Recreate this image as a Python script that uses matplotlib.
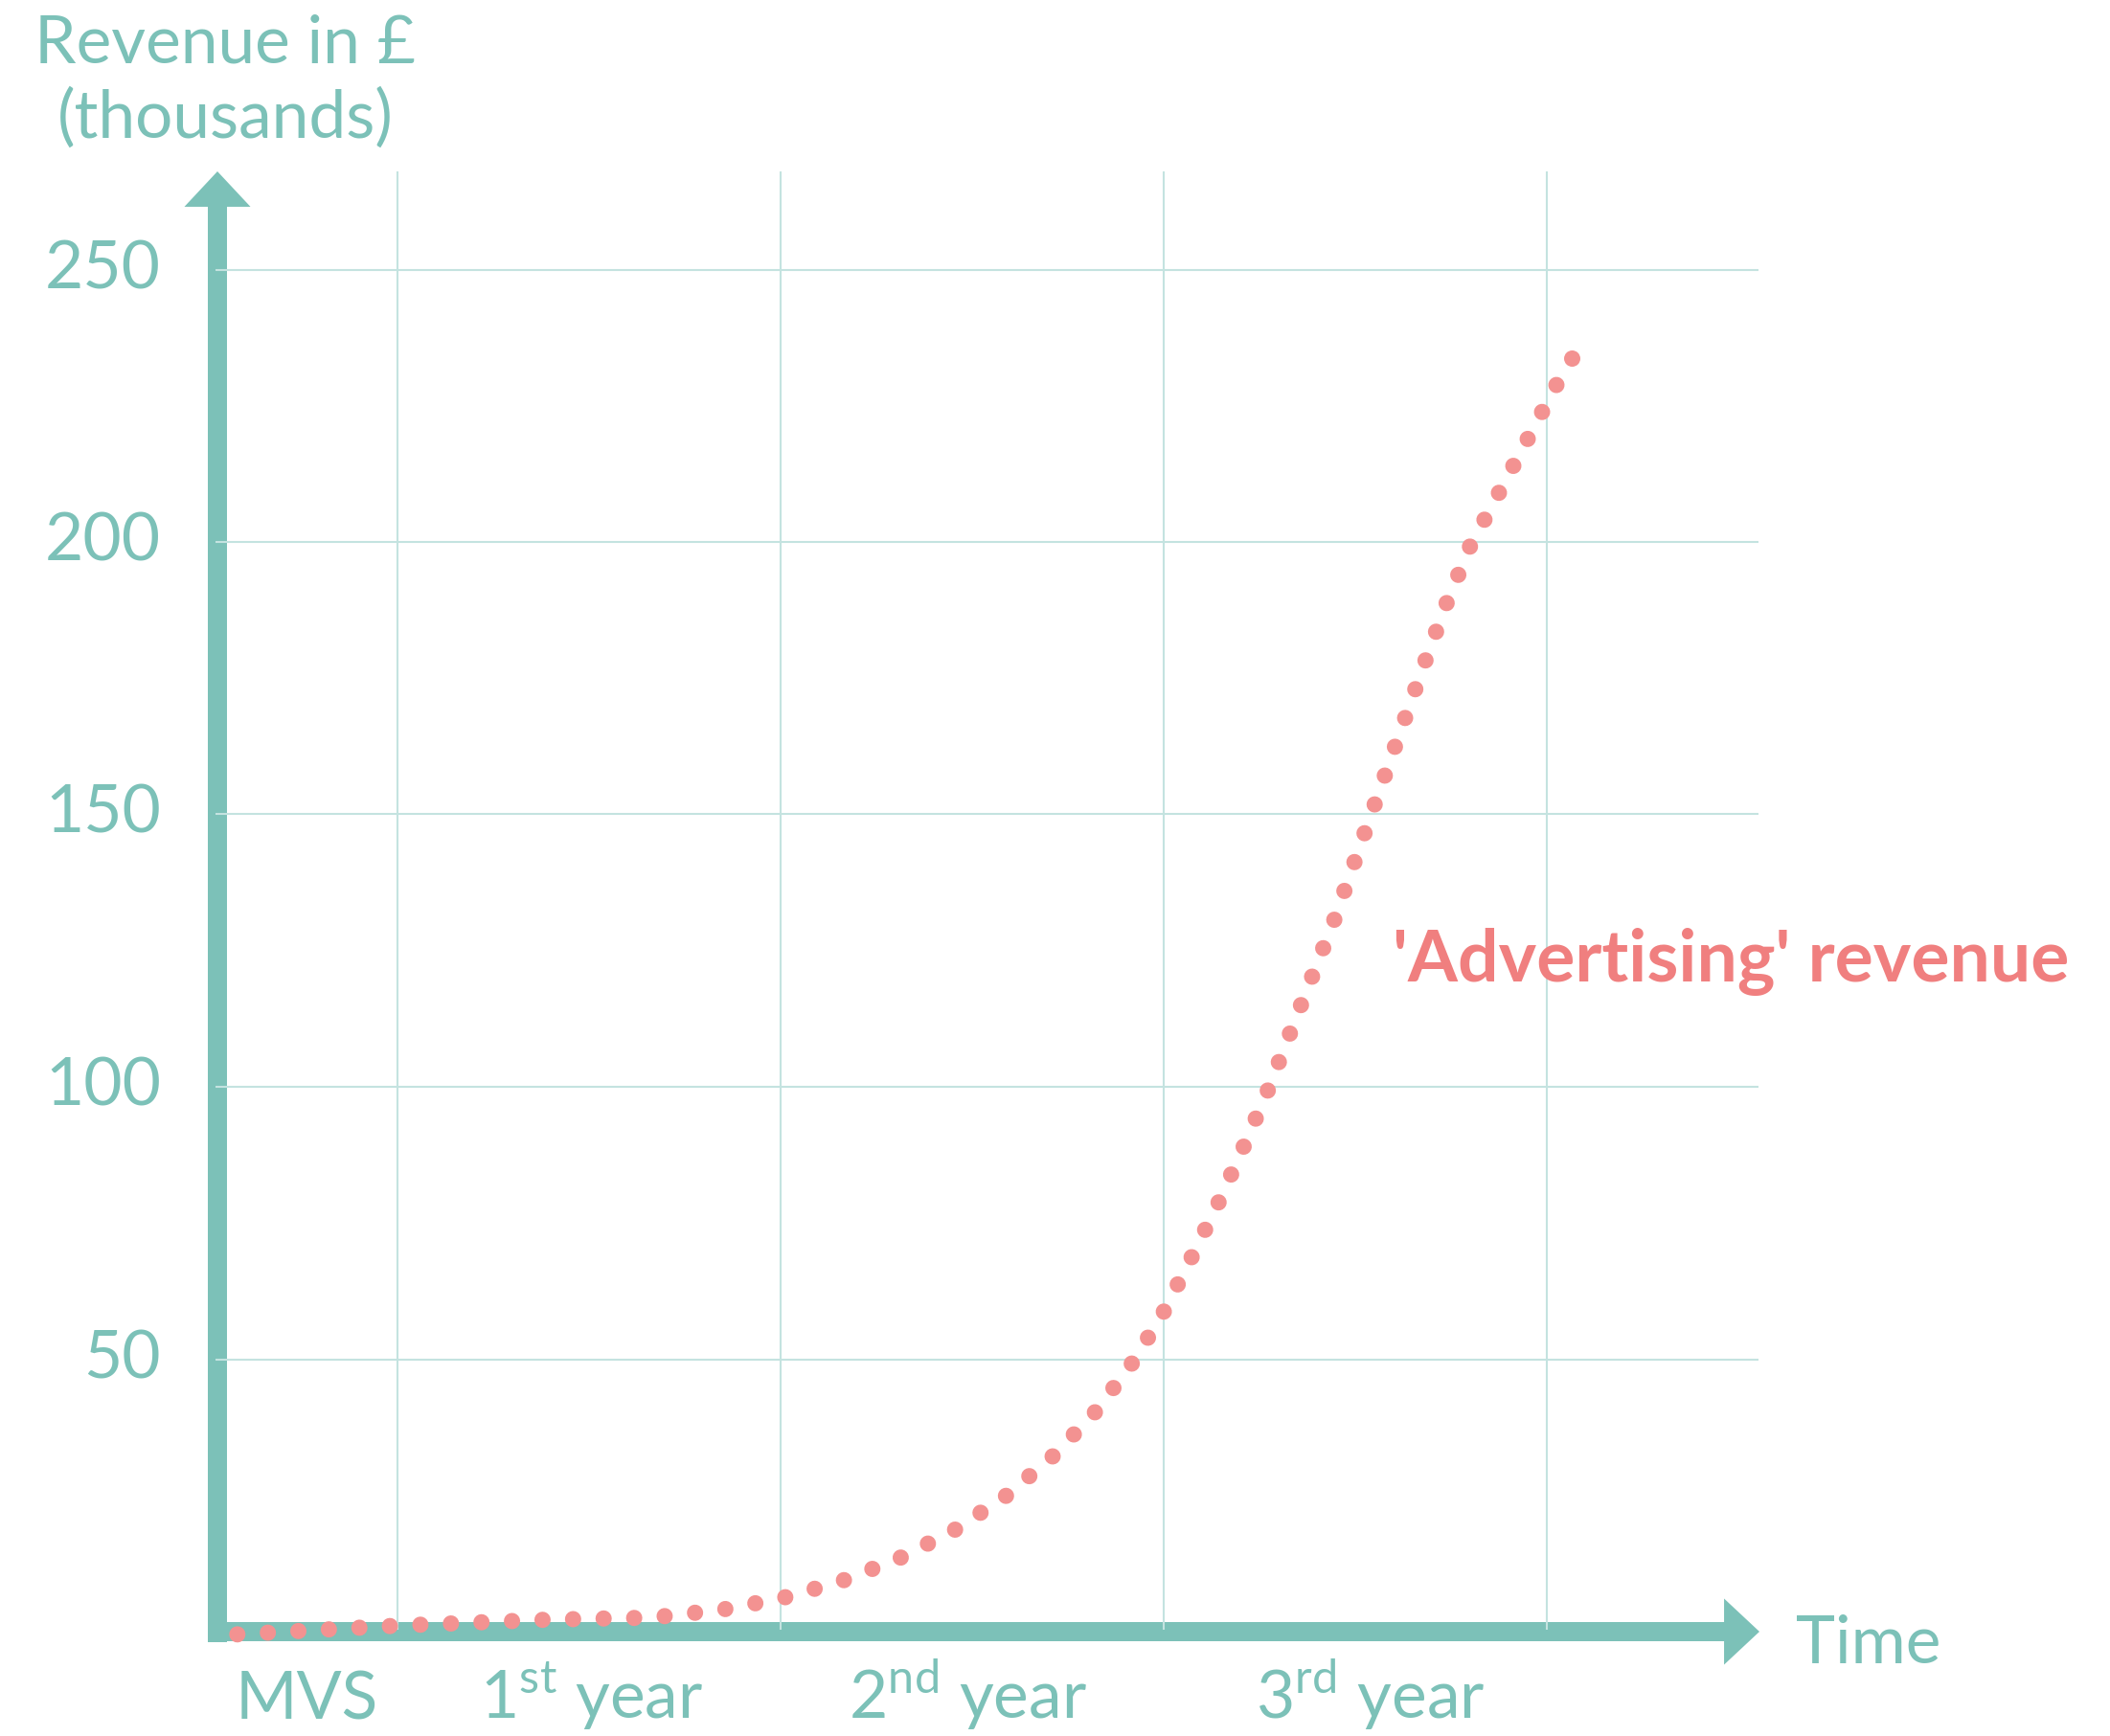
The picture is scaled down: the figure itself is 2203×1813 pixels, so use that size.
import matplotlib
matplotlib.use("Agg")
import numpy as np
import matplotlib.pyplot as plt
from matplotlib.patches import FancyArrowPatch
from matplotlib import font_manager

# ---- data -------------------------------------------------------------
# time in years (0 = end of MVS phase), revenue in £ thousands
time_years = [-0.418, 0.0, 0.376, 0.525, 0.604, 0.685, 0.845, 1.004, 1.16,
              1.311, 1.455, 1.590, 1.714, 1.825, 1.923, 2.000, 2.072, 2.142,
              2.208, 2.271, 2.36, 2.445, 2.524, 2.603, 2.683, 2.738, 2.799,
              2.868, 2.947, 3.025, 3.064]
revenue_k = [-0.5, 1.1, 2.16, 2.40, 2.46, 2.75, 4.0, 6.15, 9.3,
             13.5, 18.7, 25.0, 32.4, 40.6, 49.8, 58.7, 68.6, 78.6,
             88.9, 99.2, 115.3, 130.6, 146.5, 162.3, 178.2, 188.7, 199.1,
             208.1, 218.5, 228.8, 233.7]

y_ticks = [50, 100, 150, 200, 250]
x_grid = [0, 1, 2, 3]
period_labels = ["MVS", "1$^{\\mathregular{st}}$ year",
                 "2$^{\\mathregular{nd}}$ year", "3$^{\\mathregular{rd}}$ year"]
period_pos = [-0.2375, 0.5075, 1.4875, 2.54]

# ---- style ------------------------------------------------------------
TEAL = "#7cc1b8"
GRID = "#c4e3e0"
DOT = "#f39291"
NOTE = "#f07f7f"

names = {f.name for f in font_manager.fontManager.ttflist}
FONT = "Lato" if "Lato" in names else "DejaVu Sans"
plt.rcParams["font.family"] = [FONT, "DejaVu Sans"]
plt.rcParams["mathtext.fontset"] = "custom"
plt.rcParams["mathtext.rm"] = FONT
FS = 50

W, H, DPI = 2203, 1813, 100
fig = plt.figure(figsize=(W / DPI, H / DPI), dpi=DPI)
ax = fig.add_axes([0, 0, 1, 1])
ax.set_axis_off()

# 400 px per year, 5.69 px per thousand; value origin 1704 px from the top
px_x, px_y = 400.0, 5.69
x0 = -415 / px_x
y0 = -(H - 1704) / px_y
ax.set_xlim(x0, x0 + W / px_x)
ax.set_ylim(y0, y0 + H / px_y)


def py(p):
    return (1704 - p) / px_y


def pxx(p):
    return (p - 415) / px_x


# grid
grid_left, grid_right = pxx(225), pxx(1836)
for v in y_ticks:
    ax.plot([grid_left, grid_right], [v, v], color=GRID, lw=1.5, zorder=2,
            solid_capstyle="butt")
for g in x_grid:
    ax.plot([g, g], [py(1702), py(179)], color=GRID, lw=1.5, zorder=2,
            solid_capstyle="butt")

# axis arrows
arrow_style = "simple,tail_width=14.4,head_width=49.7,head_length=26.6"
ax_x = pxx(227)
ax.add_patch(FancyArrowPatch((ax_x, py(1715)), (ax_x, py(179)),
                             arrowstyle=arrow_style, mutation_scale=1,
                             color=TEAL, lw=0, shrinkA=0, shrinkB=0, zorder=1))
ax.add_patch(FancyArrowPatch((pxx(217), 0), (pxx(1837), 0),
                             arrowstyle=arrow_style, mutation_scale=1,
                             color=TEAL, lw=0, shrinkA=0, shrinkB=0, zorder=1))

# revenue curve as a dotted line; the dot pitch is tuned so that a dot
# falls on both ends of the curve
dot_px = 17.0
pts = ax.transData.transform(np.column_stack([time_years, revenue_k]))
length_px = np.sum(np.hypot(*np.diff(pts, axis=0).T))
n_gaps = max(1, round(length_px / 31.7))
pitch = (length_px / n_gaps) / dot_px
dot_lw = dot_px * 72 / DPI
ax.plot(time_years, revenue_k, color=DOT, lw=dot_lw,
        linestyle=(0, (0.001, pitch - 0.001)), dash_capstyle="round",
        zorder=4)
ax.plot([time_years[-1]], [revenue_k[-1]], "o", color=DOT,
        markersize=dot_lw, markeredgewidth=0, zorder=4)

# value labels
for v in y_ticks:
    ax.text(pxx(168), v, str(v), ha="right", va="center", fontsize=FS,
            color=TEAL)

ax.text(pxx(235), py(65), "Revenue in £", ha="center", va="baseline",
        fontsize=FS, color=TEAL)
ax.text(pxx(235), py(144), "(thousands)", ha="center", va="baseline",
        fontsize=FS, color=TEAL)

for pos, lab in zip(period_pos, period_labels):
    ax.text(pos, py(1795), lab, ha="center", va="baseline", fontsize=FS,
            color=TEAL)

ax.text(pxx(1875), py(1737), "Time", ha="left", va="baseline", fontsize=FS,
        color=TEAL)

ax.text(pxx(1454), py(1025), "'Advertising' revenue", ha="left",
        va="baseline", fontsize=FS + 4, color=NOTE, fontweight="bold")

fig.savefig("out.png", dpi=DPI, facecolor="white")
